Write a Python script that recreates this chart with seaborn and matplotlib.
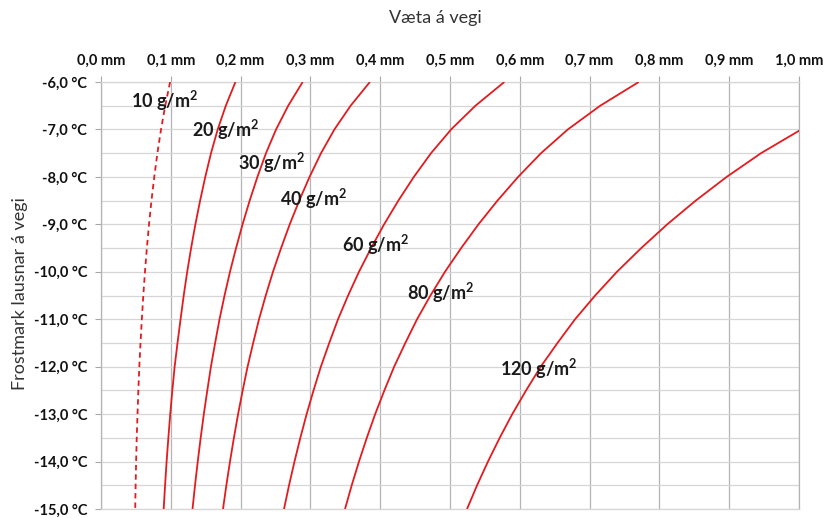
import matplotlib
matplotlib.use("Agg")
import matplotlib.pyplot as plt
import seaborn as sns
import pandas as pd
import numpy as np

# Temperatures (°C) at which each curve is read
temps = [-6.0, -6.5, -7.0, -7.5, -8.0, -8.5, -9.0, -9.5, -10.0, -10.5,
         -11.0, -11.5, -12.0, -12.5, -13.0, -13.5, -14.0, -14.5, -15.0]

# Water film thickness (mm) for each salt amount
salt_10 = [0.0990, 0.0920, 0.0860, 0.0808, 0.0763, 0.0723, 0.0688, 0.0657, 0.0630, 0.0606,
           0.0585, 0.0566, 0.0549, 0.0535, 0.0523, 0.0512, 0.0503, 0.0496, 0.0490]
salt_20 = [0.1926, 0.1788, 0.1672, 0.1576, 0.1494, 0.1420, 0.1352, 0.1291, 0.1235, 0.1185,
           0.1140, 0.1096, 0.1055, 0.1022, 0.0992, 0.0965, 0.0940, 0.0918, 0.0898]
salt_30 = [0.2889, 0.2682, 0.2508, 0.2364, 0.2241, 0.2130, 0.2028, 0.1935, 0.1848, 0.1770,
           0.1698, 0.1635, 0.1575, 0.1523, 0.1473, 0.1428, 0.1386, 0.1347, 0.1311]
salt_40 = [0.3852, 0.3576, 0.3344, 0.3152, 0.2988, 0.2840, 0.2704, 0.2580, 0.2464, 0.2360,
           0.2264, 0.2180, 0.2100, 0.2030, 0.1964, 0.1904, 0.1848, 0.1796, 0.1748]
salt_60 = [0.5778, 0.5364, 0.5016, 0.4728, 0.4482, 0.4260, 0.4056, 0.3870, 0.3696, 0.3540,
           0.3396, 0.3270, 0.3150, 0.3045, 0.2946, 0.2856, 0.2772, 0.2694, 0.2622]
salt_80 = [0.7704, 0.7152, 0.6688, 0.6304, 0.5976, 0.5680, 0.5408, 0.5160, 0.4928, 0.4720,
           0.4528, 0.4360, 0.4200, 0.4060, 0.3928, 0.3808, 0.3696, 0.3592, 0.3496]
salt_120 = [1.1556, 1.0728, 1.0032, 0.9456, 0.8964, 0.8520, 0.8112, 0.7740, 0.7392, 0.7080,
            0.6792, 0.6540, 0.6300, 0.6090, 0.5892, 0.5712, 0.5544, 0.5388, 0.5244]

series_names = ["10", "20", "30", "40", "60", "80", "120"]
series_values = [salt_10, salt_20, salt_30, salt_40, salt_60, salt_80, salt_120]

# Curve label anchor positions (mm, °C)
label_x = [0.091, 0.178, 0.245, 0.305, 0.394, 0.486, 0.627]
label_y = [-6.40, -7.00, -7.70, -8.46, -9.43, -10.44, -12.04]

x_ticks = [0.0, 0.1, 0.2, 0.3, 0.4, 0.5, 0.6, 0.7, 0.8, 0.9, 1.0]
y_ticks = [-6.0, -7.0, -8.0, -9.0, -10.0, -11.0, -12.0, -13.0, -14.0, -15.0]

sns.set_theme(style="white")
plt.rcParams['font.family'] = ['Lato', 'DejaVu Sans']
plt.rcParams['mathtext.fontset'] = 'custom'
plt.rcParams['mathtext.rm'] = 'Lato'
plt.rcParams['mathtext.bf'] = 'Lato:bold'

fig = plt.figure(figsize=(8.37, 5.18), dpi=100)
ax = fig.add_axes([101/837, 1 - 509/518, (799-101)/837, (509-82)/518])

red = "#e31b1f"
for name, vals in zip(series_names, series_values):
    df = pd.DataFrame({"mm": vals, "temp": temps})
    dashed = name == "10"
    sns.lineplot(data=df, x="mm", y="temp", ax=ax, color=red, sort=False,
                 estimator=None, linewidth=1.3,
                 linestyle=(0, (3, 2.2)) if dashed else "-", zorder=3)
    line = ax.get_lines()[-1]
    line.set_solid_joinstyle("round")
    line.set_solid_capstyle("butt")

for name, lx, ly in zip(series_names, label_x, label_y):
    ax.text(lx, ly, name + r" g/m$^{\mathbf{2}}$", ha="center", va="center",
            fontsize=13, fontweight="bold", color="#1a1a1a", zorder=4)

ax.set_xlim(0, 1.0)
ax.set_ylim(-15, -6)
ax.set_xticks(x_ticks)
ax.set_xticklabels([f"{v:.1f}".replace(".", ",") + " mm" for v in x_ticks])
ax.set_yticks(y_ticks)
ax.set_yticklabels([f"{v:.1f}".replace(".", ",") + " °C" for v in y_ticks])
ax.set_yticks(np.arange(-14.5, -6, 1.0), minor=True)

ax.xaxis.tick_top()
ax.tick_params(axis="x", which="major", top=True, bottom=False, length=4,
               width=0.8, color="#a8a8a8", pad=6, labelsize=10.5, labelcolor="#111111")
ax.tick_params(axis="y", which="major", left=True, length=4, width=0.8,
               color="#a8a8a8", pad=6, labelsize=10.5, labelcolor="#111111")
ax.tick_params(axis="y", which="minor", left=False, length=0)
for lab in ax.get_xticklabels() + ax.get_yticklabels():
    lab.set_fontweight("bold")

ax.grid(True, axis="x", which="major", color="#b4b4b4", linewidth=0.9)
ax.grid(True, axis="y", which="both", color="#d6d6d6", linewidth=0.9)
ax.set_axisbelow(True)
for side in ["left", "right"]:
    ax.spines[side].set_color("#b4b4b4")
    ax.spines[side].set_linewidth(0.9)
for side in ["top", "bottom"]:
    ax.spines[side].set_color("#d6d6d6")
    ax.spines[side].set_linewidth(0.9)

ax.set_xlabel("")
ax.set_ylabel("")
fig.text(435/837, 1 - 18/518, "Væta á vegi", ha="center", va="center",
         fontsize=13, color="#333333")
fig.text(20/837, 1 - 294/518, "Frostmark lausnar á vegi", ha="center", va="center",
         rotation=90, fontsize=13, color="#333333")

fig.savefig("out.png", dpi=100)
